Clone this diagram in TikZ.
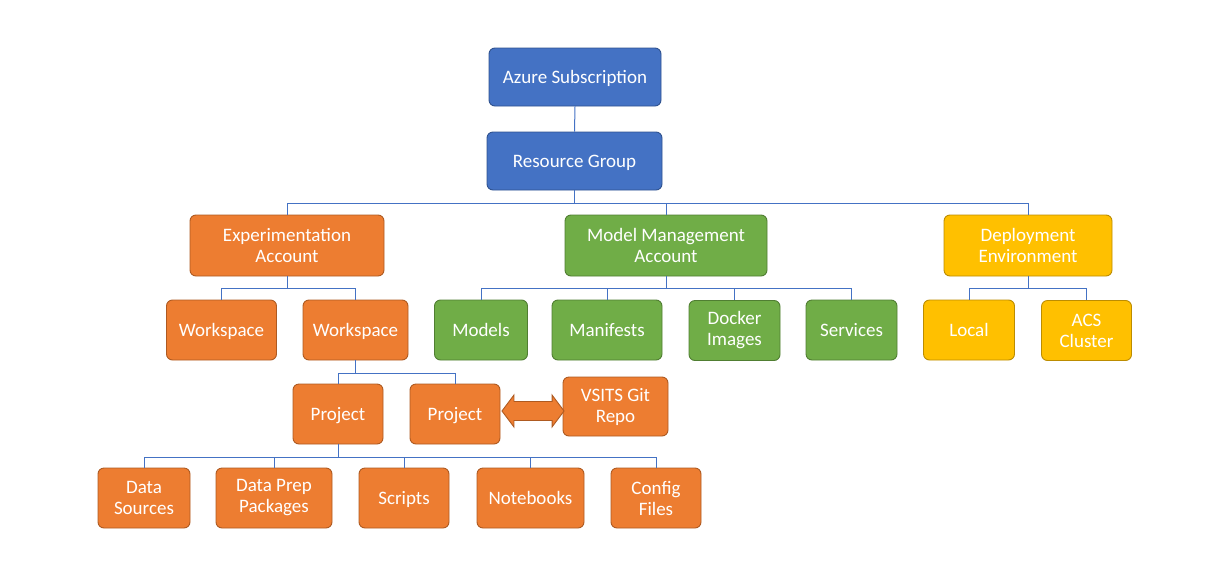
\documentclass[tikz,border=0pt]{standalone}
\usepackage{fontspec}
\setmainfont{Carlito}
\usetikzlibrary{calc}
\definecolor{bfill}{HTML}{4472C4}
\definecolor{bline}{HTML}{2F528F}
\definecolor{ofill}{HTML}{ED7D31}
\definecolor{oline}{HTML}{AE5A21}
\definecolor{gfill}{HTML}{70AD47}
\definecolor{gline}{HTML}{507E32}
\definecolor{yfill}{HTML}{FFC000}
\definecolor{yline}{HTML}{BC8C00}
\definecolor{conn}{HTML}{4472C4}
\tikzset{
  box/.style={rounded corners=6pt, inner sep=0pt, align=center, text=white,
    font=\fontsize{19}{21}\selectfont, line width=0.9pt},
  one/.style={text height=15pt, text depth=2pt},
  bluebox/.style={box, fill=bfill, draw=bline},
  orangebox/.style={box, fill=ofill, draw=oline},
  greenbox/.style={box, fill=gfill, draw=gline},
  yellowbox/.style={box, fill=yfill, draw=yline},
  wh/.style 2 args={minimum width=#1pt, minimum height=#2pt},
  conline/.style={draw=conn, line width=1pt},
  blockarrow/.style={fill=ofill, draw=oline, line width=0.9pt, line join=miter}
}
\begin{document}
\begin{tikzpicture}[x=1pt,y=-1pt]
\useasboundingbox (0,0) rectangle (1218,568);
% top
\node[bluebox, one, wh={172}{58}] (az) at (575,77) {Azure Subscription};
\node[bluebox, one, wh={175}{58}] (rg) at (574.5,161) {Resource Group};
% level 2
\node[orangebox, wh={194}{61}] (exp) at (287,245.5) {Experimentation\\Account};
\node[greenbox, wh={202}{61}] (mm) at (666,245.5) {Model Management\\Account};
\node[yellowbox, wh={168}{61}] (dep) at (1028,245.5) {Deployment\\Environment};
% level 3
\node[orangebox, one, wh={110}{60}] (ws1) at (221.5,330) {Workspace};
\node[orangebox, one, wh={105}{60}] (ws2) at (355.5,330) {Workspace};
\node[greenbox, one, wh={93}{60}] (mod) at (481,330) {Models};
\node[greenbox, one, wh={110}{60}] (man) at (607,330) {Manifests};
\node[greenbox, wh={91}{60}] (doc) at (734.5,330.5) {Docker\\Images};
\node[greenbox, one, wh={91}{60}] (srv) at (851.5,330) {Services};
\node[yellowbox, one, wh={91}{60}] (loc) at (969,330) {Local};
\node[yellowbox, wh={90}{60}] (acs) at (1086.5,330.5) {ACS\\Cluster};
% level 4
\node[orangebox, one, wh={90}{60}] (p1) at (338,414) {Project};
\node[orangebox, one, wh={90}{60}] (p2) at (455,414) {Project};
\node[orangebox, wh={105}{59}] (git) at (615.5,406.5) {VSITS Git\\Repo};
% level 5
\node[orangebox, wh={92}{60}] (ds) at (144,498) {Data\\Sources};
\node[orangebox, wh={116}{60}] (dpp) at (274,498) {Data Prep\\Packages};
\node[orangebox, one, wh={90}{60}] (scr) at (404,498) {Scripts};
\node[orangebox, one, wh={107}{60}] (nb) at (530.5,498) {Notebooks};
\node[orangebox, wh={90}{60}] (cf) at (656,498) {Config\\Files};
% connectors
\draw[conline] (az.south) -- (rg.north);
\foreach \c in {exp,mm,dep} \draw[conline] (rg.south) -- ++(0,13) -| (\c.north);
\foreach \c in {ws1,ws2} \draw[conline] (exp.south) -- ++(0,12) -| (\c.north);
\foreach \c in {mod,man,doc,srv} \draw[conline] (mm.south) -- ++(0,12) -| (\c.north);
\foreach \c in {loc,acs} \draw[conline] (dep.south) -- ++(0,12) -| (\c.north);
\foreach \c in {p1,p2} \draw[conline] (ws2.south) -- ++(0,13) -| (\c.north);
\foreach \c in {ds,dpp,scr,nb,cf} \draw[conline] (p1.south) -- ++(0,13) -| (\c.north);
% double block arrow
\coordinate (al) at ($(p2.east)+(1.5,-3)$);
\coordinate (ar) at ($(git.west)+(1.5,4.5)$);
\draw[blockarrow] (al) -- ++(12,-16) -- ++(0,6.5) -- ($(ar)+(-12,-9.5)$) -- ++(0,-6.5)
  -- (ar) -- ++(-12,16) -- ++(0,-6.5) -- ($(al)+(12,9.5)$) -- ++(0,6.5) -- cycle;
\end{tikzpicture}
\end{document}
